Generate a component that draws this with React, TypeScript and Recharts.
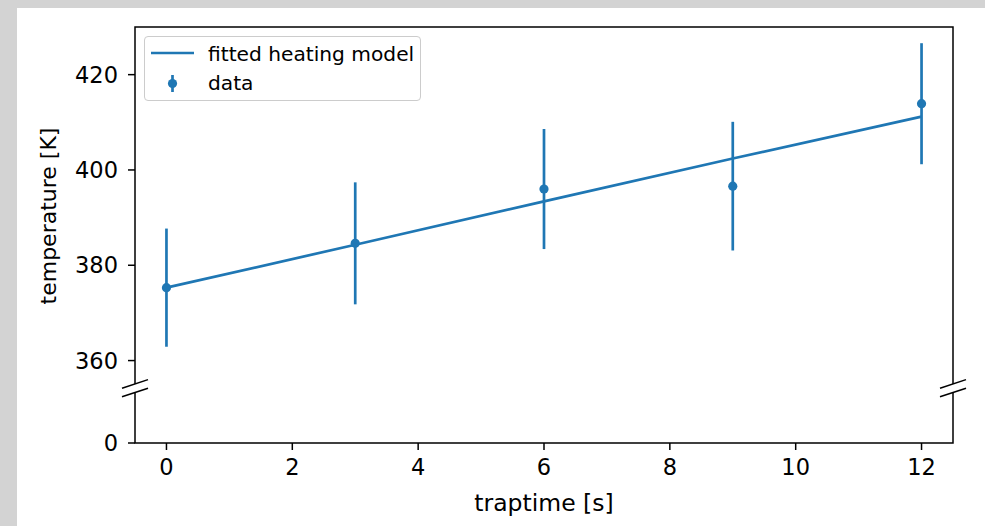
import {
  ComposedChart,
  ErrorBar,
  Label,
  Line,
  ReferenceArea,
  ReferenceDot,
  Scatter,
  XAxis,
  YAxis,
} from 'recharts';

const BLUE = '#1f77b4';
const FONT = "'DejaVu Sans', sans-serif";

const trapTimes = [0, 3, 6, 9, 12];
const measuredTemps = [375.3, 384.6, 396.0, 396.6, 413.9];
const tempErrors = [12.4, 12.8, 12.6, 13.5, 12.7];
const fittedTemps = [375.3, 384.3, 393.4, 402.4, 411.2];

const xTicks = [0, 2, 4, 6, 8, 10, 12];
const yTicks = [0, 360, 380, 400, 420];
const legendNames = ['fitted heating model', 'data'];

// broken y axis: the upper panel runs down to Y_BREAK, the lone 0 tick is
// parked at Y_FLOOR (bottom of the plot)
const Y_TOP = 430;
const Y_FLOOR = 342.7;
const Y_BREAK = 354.2;
const X_MIN = -0.5;
const X_MAX = 12.5;

const toAxis = (v: number) => (v === 0 ? Y_FLOOR : v);
const fromAxis = (v: number) => (v === Y_FLOOR ? '0' : String(v));

const points = trapTimes.map((x, i) => ({
  x,
  temp: measuredTemps[i],
  err: tempErrors[i],
}));
const fitLine = trapTimes.map((x, i) => ({ x, fit: fittedTemps[i] }));

const tickStyle = { fill: '#000', fontSize: 22.5, fontFamily: FONT };

function BreakMark(props: any) {
  const { cx, cy } = props;
  const offs = [-4.3, 4.3];
  return (
    <g>
      <rect x={cx - 3} y={cy - 4.3} width={6} height={8.6} fill='#fff' />
      {offs.map((o) => (
        <line
          key={o}
          x1={cx - 13}
          y1={cy + o + 4.3}
          x2={cx + 13}
          y2={cy + o - 4.3}
          stroke='#000'
          strokeWidth={1.5}
        />
      ))}
    </g>
  );
}

function XTitle({ viewBox }: any) {
  return (
    <text
      x={viewBox.x + viewBox.width / 2}
      y={viewBox.y + 68}
      textAnchor='middle'
      fontSize={23.5}
      fontFamily={FONT}
      fill='#000'
    >
      traptime [s]
    </text>
  );
}

function YTitle({ viewBox }: any) {
  const x = viewBox.x + 56;
  const y = viewBox.y + viewBox.height / 2 - 19;
  return (
    <text
      x={x}
      y={y}
      transform={`rotate(-90, ${x}, ${y})`}
      textAnchor='middle'
      fontSize={22}
      fontFamily={FONT}
      fill='#000'
    >
      temperature [K]
    </text>
  );
}

function LegendBox() {
  return (
    <div
      style={{
        position: 'absolute',
        left: 144,
        top: 36,
        width: 275,
        height: 63,
        border: '1.5px solid #cccccc',
        borderRadius: 4,
        background: 'rgba(255,255,255,0.8)',
        fontFamily: FONT,
        fontSize: 20.2,
        lineHeight: '24px',
        color: '#000',
      }}
    >
      <svg
        width={60}
        height={63}
        style={{ position: 'absolute', left: 0, top: 0 }}
      >
        <line x1={6} y1={16} x2={49} y2={16} stroke={BLUE} strokeWidth={2.7} />
        <line x1={27.5} y1={38} x2={27.5} y2={55} stroke={BLUE} strokeWidth={2.7} />
        <circle cx={27.5} cy={46.5} r={4.6} fill={BLUE} />
      </svg>
      {legendNames.map((name, i) => (
        <span
          key={name}
          style={{
            position: 'absolute',
            left: 63,
            top: 5 + i * 28.6,
            whiteSpace: 'nowrap',
          }}
        >
          {name}
        </span>
      ))}
    </div>
  );
}

export default function App() {
  return (
    <div
      style={{
        position: 'absolute',
        left: 0,
        top: 0,
        width: 985,
        height: 526,
        background: '#d3d3d3',
      }}
    >
      <div
        style={{
          position: 'absolute',
          left: 17,
          top: 8,
          width: 968,
          height: 518,
          background: '#fff',
        }}
      />
      <div style={{ position: 'absolute', left: 0, top: 0 }}>
        <ComposedChart
          width={985}
          height={526}
          margin={{ top: 27, right: 32, bottom: 0, left: 0 }}
        >
          <XAxis
            type='number'
            dataKey='x'
            domain={[X_MIN, X_MAX]}
            ticks={xTicks}
            interval={0}
            allowDataOverflow
            axisLine={false}
            tickLine={{ stroke: '#000', strokeWidth: 1.5 }}
            tickSize={7}
            tickMargin={9}
            tick={tickStyle}
            height={83}
          >
            <Label content={XTitle} />
          </XAxis>
          <YAxis
            type='number'
            domain={[Y_FLOOR, Y_TOP]}
            ticks={yTicks.map(toAxis)}
            tickFormatter={fromAxis}
            interval={0}
            allowDataOverflow
            axisLine={false}
            tickLine={{ stroke: '#000', strokeWidth: 1.5 }}
            tickSize={7}
            tickMargin={10}
            tick={tickStyle}
            width={135}
          >
            <Label content={YTitle} />
          </YAxis>
          <ReferenceArea
            x1={X_MIN}
            x2={X_MAX}
            y1={Y_FLOOR}
            y2={Y_TOP}
            fill='none'
            fillOpacity={0}
            stroke='#000'
            strokeWidth={1.5}
            strokeOpacity={1}
            ifOverflow='visible'
          />
          <Line
            data={fitLine}
            dataKey='fit'
            stroke={BLUE}
            strokeWidth={2.7}
            dot={false}
            isAnimationActive={false}
          />
          <Scatter
            data={points}
            dataKey='temp'
            fill={BLUE}
            isAnimationActive={false}
            shape={(p: any) => <circle cx={p.cx} cy={p.cy} r={4.6} fill={BLUE} />}
          >
            <ErrorBar
              dataKey='err'
              direction='y'
              width={0}
              stroke={BLUE}
              strokeWidth={2.7}
              isAnimationActive={false}
            />
          </Scatter>
          {[X_MIN, X_MAX].map((x) => (
            <ReferenceDot
              key={x}
              x={x}
              y={Y_BREAK}
              r={0}
              ifOverflow='visible'
              shape={BreakMark}
              zIndex={1000}
            />
          ))}
        </ComposedChart>
      </div>
      <LegendBox />
    </div>
  );
}
